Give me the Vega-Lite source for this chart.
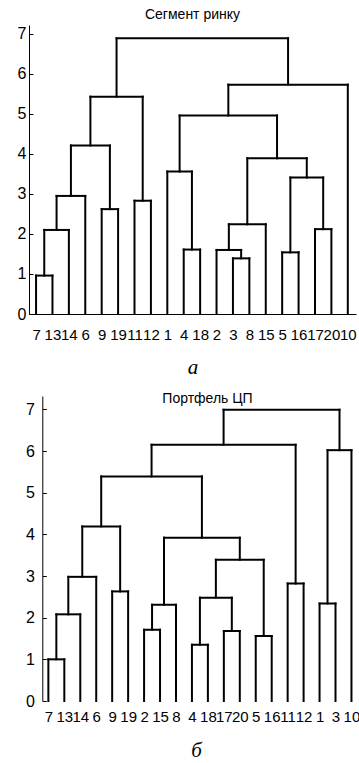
{
  "$schema": "https://vega.github.io/schema/vega-lite/v6.json",
  "padding": {"left": 9, "top": 8, "right": 0, "bottom": 0},
  "autosize": {"type": "pad"},
  "spacing": 15,
  "config": {
    "view": {"stroke": null},
    "axis": {"domainColor": "black", "labelColor": "black", "grid": false, "titleColor": "black", "tickColor": "black"}
  },
  "datasets": {
    "a": [
      {"x": 1, "x2": 1, "y": 0, "y2": 0.96}, {"x": 2, "x2": 2, "y": 0, "y2": 0.96}, {"x": 1, "x2": 2, "y": 0.96, "y2": 0.96},
      {"x": 1.5, "x2": 1.5, "y": 0.96, "y2": 2.1}, {"x": 3, "x2": 3, "y": 0, "y2": 2.1}, {"x": 1.5, "x2": 3, "y": 2.1, "y2": 2.1},
      {"x": 2.25, "x2": 2.25, "y": 2.1, "y2": 2.95}, {"x": 4, "x2": 4, "y": 0, "y2": 2.95}, {"x": 2.25, "x2": 4, "y": 2.95, "y2": 2.95},
      {"x": 5, "x2": 5, "y": 0, "y2": 2.62}, {"x": 6, "x2": 6, "y": 0, "y2": 2.62}, {"x": 5, "x2": 6, "y": 2.62, "y2": 2.62},
      {"x": 3.125, "x2": 3.125, "y": 2.95, "y2": 4.21}, {"x": 5.5, "x2": 5.5, "y": 2.62, "y2": 4.21}, {"x": 3.125, "x2": 5.5, "y": 4.21, "y2": 4.21},
      {"x": 7, "x2": 7, "y": 0, "y2": 2.83}, {"x": 8, "x2": 8, "y": 0, "y2": 2.83}, {"x": 7, "x2": 8, "y": 2.83, "y2": 2.83},
      {"x": 4.3125, "x2": 4.3125, "y": 4.21, "y2": 5.43}, {"x": 7.5, "x2": 7.5, "y": 2.83, "y2": 5.43}, {"x": 4.3125, "x2": 7.5, "y": 5.43, "y2": 5.43},
      {"x": 10, "x2": 10, "y": 0, "y2": 1.61}, {"x": 11, "x2": 11, "y": 0, "y2": 1.61}, {"x": 10, "x2": 11, "y": 1.61, "y2": 1.61},
      {"x": 9, "x2": 9, "y": 0, "y2": 3.56}, {"x": 10.5, "x2": 10.5, "y": 1.61, "y2": 3.56}, {"x": 9, "x2": 10.5, "y": 3.56, "y2": 3.56},
      {"x": 13, "x2": 13, "y": 0, "y2": 1.39}, {"x": 14, "x2": 14, "y": 0, "y2": 1.39}, {"x": 13, "x2": 14, "y": 1.39, "y2": 1.39},
      {"x": 12, "x2": 12, "y": 0, "y2": 1.6}, {"x": 13.5, "x2": 13.5, "y": 1.39, "y2": 1.6}, {"x": 12, "x2": 13.5, "y": 1.6, "y2": 1.6},
      {"x": 12.75, "x2": 12.75, "y": 1.6, "y2": 2.24}, {"x": 15, "x2": 15, "y": 0, "y2": 2.24}, {"x": 12.75, "x2": 15, "y": 2.24, "y2": 2.24},
      {"x": 16, "x2": 16, "y": 0, "y2": 1.54}, {"x": 17, "x2": 17, "y": 0, "y2": 1.54}, {"x": 16, "x2": 17, "y": 1.54, "y2": 1.54},
      {"x": 18, "x2": 18, "y": 0, "y2": 2.12}, {"x": 19, "x2": 19, "y": 0, "y2": 2.12}, {"x": 18, "x2": 19, "y": 2.12, "y2": 2.12},
      {"x": 16.5, "x2": 16.5, "y": 1.54, "y2": 3.41}, {"x": 18.5, "x2": 18.5, "y": 2.12, "y2": 3.41}, {"x": 16.5, "x2": 18.5, "y": 3.41, "y2": 3.41},
      {"x": 13.875, "x2": 13.875, "y": 2.24, "y2": 3.89}, {"x": 17.5, "x2": 17.5, "y": 3.41, "y2": 3.89}, {"x": 13.875, "x2": 17.5, "y": 3.89, "y2": 3.89},
      {"x": 9.75, "x2": 9.75, "y": 3.56, "y2": 4.96}, {"x": 15.6875, "x2": 15.6875, "y": 3.89, "y2": 4.96}, {"x": 9.75, "x2": 15.6875, "y": 4.96, "y2": 4.96},
      {"x": 12.71875, "x2": 12.71875, "y": 4.96, "y2": 5.73}, {"x": 20, "x2": 20, "y": 0, "y2": 5.73}, {"x": 12.71875, "x2": 20, "y": 5.73, "y2": 5.73},
      {"x": 5.90625, "x2": 5.90625, "y": 5.43, "y2": 6.89}, {"x": 16.359375, "x2": 16.359375, "y": 5.73, "y2": 6.89}, {"x": 5.90625, "x2": 16.359375, "y": 6.89, "y2": 6.89}
    ],
    "b": [
      {"x": 1, "x2": 1, "y": 0, "y2": 1.0}, {"x": 2, "x2": 2, "y": 0, "y2": 1.0}, {"x": 1, "x2": 2, "y": 1.0, "y2": 1.0},
      {"x": 1.5, "x2": 1.5, "y": 1.0, "y2": 2.08}, {"x": 3, "x2": 3, "y": 0, "y2": 2.08}, {"x": 1.5, "x2": 3, "y": 2.08, "y2": 2.08},
      {"x": 2.25, "x2": 2.25, "y": 2.08, "y2": 2.98}, {"x": 4, "x2": 4, "y": 0, "y2": 2.98}, {"x": 2.25, "x2": 4, "y": 2.98, "y2": 2.98},
      {"x": 5, "x2": 5, "y": 0, "y2": 2.63}, {"x": 6, "x2": 6, "y": 0, "y2": 2.63}, {"x": 5, "x2": 6, "y": 2.63, "y2": 2.63},
      {"x": 3.125, "x2": 3.125, "y": 2.98, "y2": 4.19}, {"x": 5.5, "x2": 5.5, "y": 2.63, "y2": 4.19}, {"x": 3.125, "x2": 5.5, "y": 4.19, "y2": 4.19},
      {"x": 7, "x2": 7, "y": 0, "y2": 1.71}, {"x": 8, "x2": 8, "y": 0, "y2": 1.71}, {"x": 7, "x2": 8, "y": 1.71, "y2": 1.71},
      {"x": 7.5, "x2": 7.5, "y": 1.71, "y2": 2.31}, {"x": 9, "x2": 9, "y": 0, "y2": 2.31}, {"x": 7.5, "x2": 9, "y": 2.31, "y2": 2.31},
      {"x": 10, "x2": 10, "y": 0, "y2": 1.35}, {"x": 11, "x2": 11, "y": 0, "y2": 1.35}, {"x": 10, "x2": 11, "y": 1.35, "y2": 1.35},
      {"x": 12, "x2": 12, "y": 0, "y2": 1.68}, {"x": 13, "x2": 13, "y": 0, "y2": 1.68}, {"x": 12, "x2": 13, "y": 1.68, "y2": 1.68},
      {"x": 10.5, "x2": 10.5, "y": 1.35, "y2": 2.48}, {"x": 12.5, "x2": 12.5, "y": 1.68, "y2": 2.48}, {"x": 10.5, "x2": 12.5, "y": 2.48, "y2": 2.48},
      {"x": 14, "x2": 14, "y": 0, "y2": 1.56}, {"x": 15, "x2": 15, "y": 0, "y2": 1.56}, {"x": 14, "x2": 15, "y": 1.56, "y2": 1.56},
      {"x": 11.5, "x2": 11.5, "y": 2.48, "y2": 3.39}, {"x": 14.5, "x2": 14.5, "y": 1.56, "y2": 3.39}, {"x": 11.5, "x2": 14.5, "y": 3.39, "y2": 3.39},
      {"x": 8.25, "x2": 8.25, "y": 2.31, "y2": 3.92}, {"x": 13, "x2": 13, "y": 3.39, "y2": 3.92}, {"x": 8.25, "x2": 13, "y": 3.92, "y2": 3.92},
      {"x": 4.3125, "x2": 4.3125, "y": 4.19, "y2": 5.39}, {"x": 10.625, "x2": 10.625, "y": 3.92, "y2": 5.39}, {"x": 4.3125, "x2": 10.625, "y": 5.39, "y2": 5.39},
      {"x": 16, "x2": 16, "y": 0, "y2": 2.82}, {"x": 17, "x2": 17, "y": 0, "y2": 2.82}, {"x": 16, "x2": 17, "y": 2.82, "y2": 2.82},
      {"x": 7.46875, "x2": 7.46875, "y": 5.39, "y2": 6.15}, {"x": 16.5, "x2": 16.5, "y": 2.82, "y2": 6.15}, {"x": 7.46875, "x2": 16.5, "y": 6.15, "y2": 6.15},
      {"x": 18, "x2": 18, "y": 0, "y2": 2.34}, {"x": 19, "x2": 19, "y": 0, "y2": 2.34}, {"x": 18, "x2": 19, "y": 2.34, "y2": 2.34},
      {"x": 18.5, "x2": 18.5, "y": 2.34, "y2": 6.02}, {"x": 20, "x2": 20, "y": 0, "y2": 6.02}, {"x": 18.5, "x2": 20, "y": 6.02, "y2": 6.02},
      {"x": 11.984375, "x2": 11.984375, "y": 6.15, "y2": 6.99}, {"x": 19.25, "x2": 19.25, "y": 6.02, "y2": 6.99}, {"x": 11.984375, "x2": 19.25, "y": 6.99, "y2": 6.99}
    ]
  },
  "vconcat": [
    {
      "width": 327,
      "height": 289,
      "title": {"text": "Сегмент ринку", "fontSize": 14, "fontWeight": "normal", "font": "Liberation Sans", "color": "black", "offset": 3},
      "data": {"name": "a"},
      "mark": {"type": "rule", "strokeWidth": 2, "strokeCap": "square", "color": "black"},
      "encoding": {
        "x": {"field": "x", "type": "quantitative",
          "scale": {"domain": [0.57, 20.5], "nice": false, "zero": false},
          "axis": {"values": [1,2,3,4,5,6,7,8,9,10,11,12,13,14,15,16,17,18,19,20],
            "labelExpr": "['7','13','14','6','9','19','11','12','1','4','18','2','3','8','15','5','16','17','20','10'][datum.value-1]",
            "labelOverlap": false, "ticks": false, "labelFont": "Liberation Sans", "labelFontSize": 15,
            "labelPadding": 13, "title": "а", "titleFont": "Liberation Serif", "titleFontStyle": "italic", "titleFontWeight": "normal",
            "titleFontSize": 21, "titlePadding": 14}},
        "x2": {"field": "x2"},
        "y": {"field": "y", "type": "quantitative",
          "scale": {"domain": [0, 7.22], "nice": false},
          "axis": {"values": [0,1,2,3,4,5,6,7], "title": null, "ticks": true, "tickSize": -4, "labelFont": "Liberation Sans",
            "labelFontSize": 16, "labelPadding": 7, "minExtent": 20, "maxExtent": 20}},
        "y2": {"field": "y2"}
      }
    },
    {
      "width": 329,
      "height": 305,
      "title": {"text": "Портфель ЦП", "fontSize": 14, "fontWeight": "normal", "font": "Liberation Sans", "color": "black", "offset": -10, "dx": 14},
      "layer": [
        {
          "data": {"name": "b"},
          "mark": {"type": "rule", "strokeWidth": 2, "strokeCap": "square", "color": "black"},
          "encoding": {
            "x": {"field": "x", "type": "quantitative",
              "scale": {"domain": [-0.214, 20.41], "nice": false, "zero": false},
              "axis": {"values": [1,2,3,4,5,6,7,8,9,10,11,12,13,14,15,16,17,18,19,20],
                "labelExpr": "['7','13','14','6','9','19','2','15','8','4','18','17','20','5','16','11','12','1','3','10'][datum.value-1]",
                "labelOverlap": false, "ticks": false, "domain": false, "labelFont": "Liberation Sans", "labelFontSize": 15,
                "labelPadding": 8, "title": "б", "titleFont": "Liberation Serif", "titleFontStyle": "italic", "titleFontWeight": "normal",
                "titleFontSize": 21, "titlePadding": 15, "titleX": 167}},
            "x2": {"field": "x2"},
            "y": {"field": "y", "type": "quantitative",
              "scale": {"domain": [0, 7.32], "nice": false},
              "axis": {"values": [0,1,2,3,4,5,6,7], "title": null, "ticks": true, "tickSize": -4, "labelFont": "Liberation Sans",
                "labelFontSize": 16, "labelPadding": 12, "offset": -13.3, "minExtent": 20, "maxExtent": 20}},
            "y2": {"field": "y2"}
          }
        },
        {
          "mark": {"type": "rule", "strokeWidth": 1, "color": "black"},
          "encoding": {
            "x": {"datum": 0.62, "type": "quantitative",
              "axis": {"values": [1,2,3,4,5,6,7,8,9,10,11,12,13,14,15,16,17,18,19,20],
                "labelExpr": "['7','13','14','6','9','19','2','15','8','4','18','17','20','5','16','11','12','1','3','10'][datum.value-1]",
                "labelOverlap": false, "ticks": false, "domain": false, "labelFont": "Liberation Sans", "labelFontSize": 15,
                "labelPadding": 8, "title": "б", "titleFont": "Liberation Serif", "titleFontStyle": "italic", "titleFontWeight": "normal",
                "titleFontSize": 21, "titlePadding": 15, "titleX": 167}},
            "x2": {"datum": 20.41},
            "y": {"datum": 0, "type": "quantitative"}
          }
        }
      ]
    }
  ]
}
